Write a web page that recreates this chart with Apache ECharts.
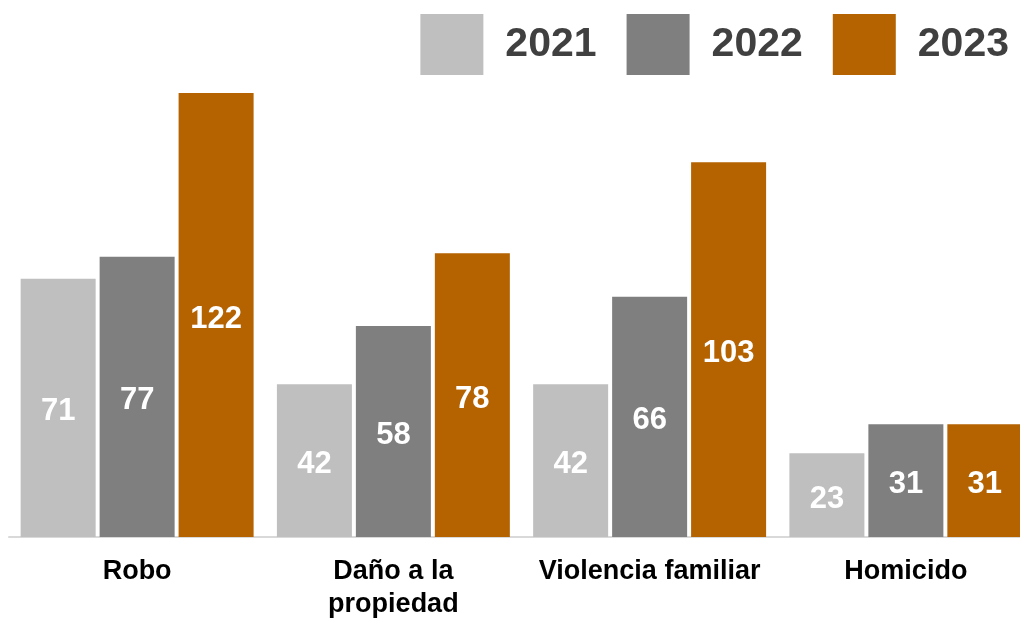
<!DOCTYPE html>
<html>
<head>
<meta charset="utf-8">
<script src="https://cdn.jsdelivr.net/npm/echarts@6/dist/echarts.min.js"></script>
<style>
  html, body { margin: 0; padding: 0; background: #fff; }
  #chart { width: 1020px; height: 618px; }
</style>
</head>
<body>
<div id="chart"></div>
<script>
// datos
var categories = ['Robo', 'Daño a la\npropiedad', 'Violencia familiar', 'Homicido'];
var years = ['2021', '2022', '2023'];
var values2021 = [71, 42, 42, 23];
var values2022 = [77, 58, 66, 31];
var values2023 = [122, 78, 103, 31];
var colors = ['#BFBFBF', '#7F7F7F', '#B56200'];

var font = '"Liberation Sans", Arial, sans-serif';

var chart = echarts.init(document.getElementById('chart'));

function makeSeries(name, data, color) {
    return {
        name: name,
        type: 'bar',
        data: data,
        barWidth: 75,
        barGap: '5.3%',
        itemStyle: { color: color },
        label: {
            show: true,
            position: 'inside',
            offset: [0, 4],
            color: '#fff',
            fontFamily: font,
            fontWeight: 'bold',
            fontSize: 31
        }
    };
}

var option = {
    animation: false,
    legend: {
        data: years,
        top: 9,
        right: 6,
        itemWidth: 63,
        itemHeight: 61,
        itemGap: 30,
        icon: 'rect',
        textStyle: {
            fontFamily: font,
            fontWeight: 'bold',
            fontSize: 41,
            color: '#404040',
            padding: [0, 0, 0, 17]
        }
    },
    grid: {
        left: 9,
        right: -14,
        top: 64,
        bottom: 81,
        outerBoundsMode: 'none'
    },
    xAxis: {
        type: 'category',
        data: categories,
        axisLine: { lineStyle: { color: '#D9D9D9', width: 2 } },
        axisTick: { show: false },
        axisLabel: {
            interval: 0,
            margin: 18,
            fontFamily: font,
            fontWeight: 'bold',
            fontSize: 27,
            lineHeight: 33,
            color: '#000'
        }
    },
    yAxis: {
        type: 'value',
        min: 0,
        max: 130,
        show: false,
        splitLine: { show: false }
    },
    series: [
        makeSeries(years[0], values2021, colors[0]),
        makeSeries(years[1], values2022, colors[1]),
        makeSeries(years[2], values2023, colors[2])
    ]
};

chart.setOption(option);
</script>
</body>
</html>
